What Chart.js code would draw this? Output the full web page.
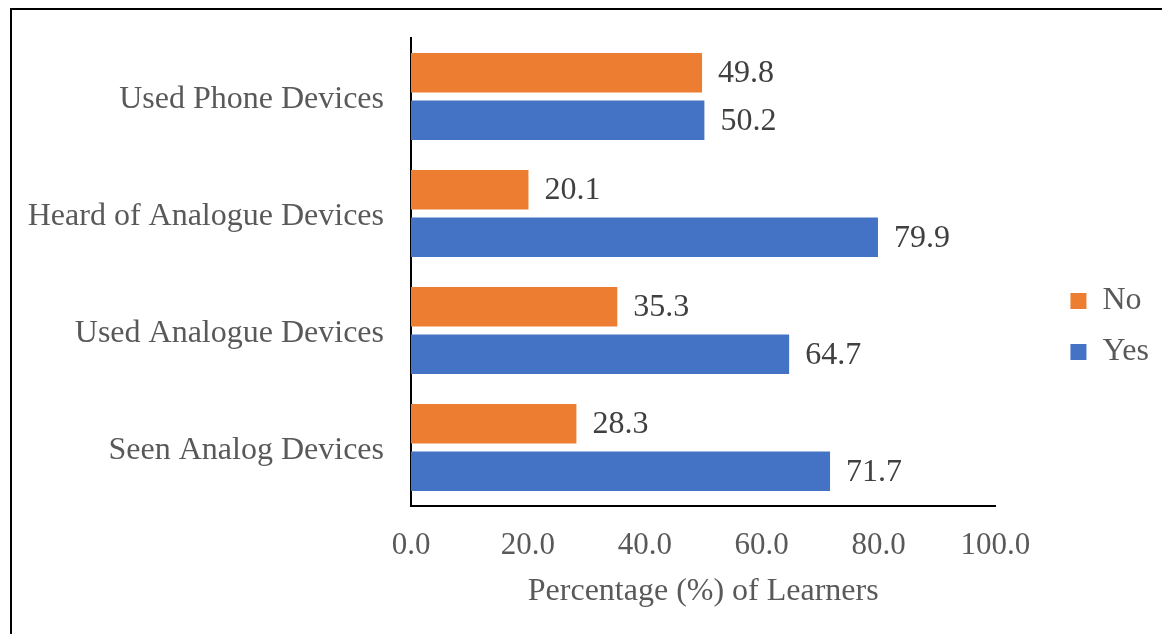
<!DOCTYPE html>
<html>
<head>
<meta charset="utf-8">
<script src="https://cdn.jsdelivr.net/npm/chart.js@4.4.1/dist/chart.umd.min.js"></script>
<style>
  html, body { margin: 0; padding: 0; background: #ffffff; overflow: hidden; }
  #frame { position: absolute; left: 10px; top: 8px; width: 1300px; height: 800px; border: 2px solid #000; box-sizing: border-box; }
  #wrap { position: absolute; left: 0; top: 0; width: 1162px; height: 634px; }
</style>
</head>
<body>
<div id="frame"></div>
<div id="wrap"><canvas id="chart" width="1162" height="634"></canvas></div>
<script>
// Survey categories, top to bottom
const categories = ['Used Phone Devices', 'Heard of Analogue Devices', 'Used Analogue Devices', 'Seen Analog Devices'];
// Share of learners answering each way (%)
const noValues = [49.8, 20.1, 35.3, 28.3];
const yesValues = [50.2, 79.9, 64.7, 71.7];
// Horizontal axis ticks
const xTicks = [0, 20, 40, 60, 80, 100];

const SERIF = "'Liberation Serif', 'Times New Roman', serif";
const GREY = '#595959';

// Writes each bar's value just past its end
const valueLabels = {
  id: 'valueLabels',
  afterDatasetsDraw(chart) {
    const ctx = chart.ctx;
    ctx.save();
    ctx.font = '32px ' + SERIF;
    ctx.fillStyle = '#404040';
    ctx.textAlign = 'left';
    ctx.textBaseline = 'middle';
    chart.data.datasets.forEach((ds, di) => {
      chart.getDatasetMeta(di).data.forEach((bar, i) => {
        ctx.fillText(ds.data[i].toFixed(1), bar.x + 16, bar.y + 1);
      });
    });
    ctx.restore();
  }
};

new Chart(document.getElementById('chart'), {
  type: 'bar',
  data: {
    labels: categories,
    datasets: [
      { label: 'No', data: noValues, backgroundColor: '#ED7D31' },
      { label: 'Yes', data: yesValues, backgroundColor: '#4472C4' }
    ]
  },
  options: {
    indexAxis: 'y',
    responsive: false,
    animation: false,
    datasets: { bar: { categoryPercentage: 0.812, barPercentage: 0.83 } },
    layout: { padding: { top: 19, bottom: 0, left: 0, right: 3 } },
    plugins: {
      tooltip: { enabled: false },
      legend: {
        position: 'right',
        labels: {
          font: { family: SERIF, size: 32 },
          color: GREY,
          boxWidth: 16,
          boxHeight: 16,
          padding: 19
        }
      }
    },
    scales: {
      x: {
        min: 0,
        max: 100,
        afterBuildTicks(scale) { scale.ticks = xTicks.map(v => ({ value: v })); },
        grid: { display: false, drawTicks: false },
        border: { display: true, color: '#000000', width: 2 },
        ticks: {
          padding: 21,
          color: GREY,
          font: { family: SERIF, size: 31 },
          maxRotation: 0,
          callback: v => Number(v).toFixed(1)
        },
        title: {
          display: true,
          text: 'Percentage (%) of Learners',
          color: GREY,
          font: { family: SERIF, size: 32 },
          padding: { top: 0, bottom: 23 }
        },
        afterFit(scale) { scale.height = 128; }
      },
      y: {
        grid: { display: false, drawTicks: false },
        border: { display: true, color: '#000000', width: 2 },
        ticks: {
          padding: 27,
          labelOffset: 3,
          color: GREY,
          font: { family: SERIF, size: 32 }
        },
        afterFit(scale) {
          scale.width = 411;
          scale.paddingTop = 0;
          scale.paddingBottom = 0;
        }
      },
      padTop: {
        type: 'linear',
        position: 'top',
        display: true,
        grid: { display: false, drawTicks: false },
        border: { display: false },
        ticks: { display: false },
        afterFit(scale) { scale.height = 19; }
      },
      padRight: {
        type: 'linear',
        position: 'right',
        display: true,
        grid: { display: false, drawTicks: false },
        border: { display: false },
        ticks: { display: false },
        afterFit(scale) { scale.width = 56; }
      }
    }
  },
  plugins: [valueLabels]
});
</script>
</body>
</html>
